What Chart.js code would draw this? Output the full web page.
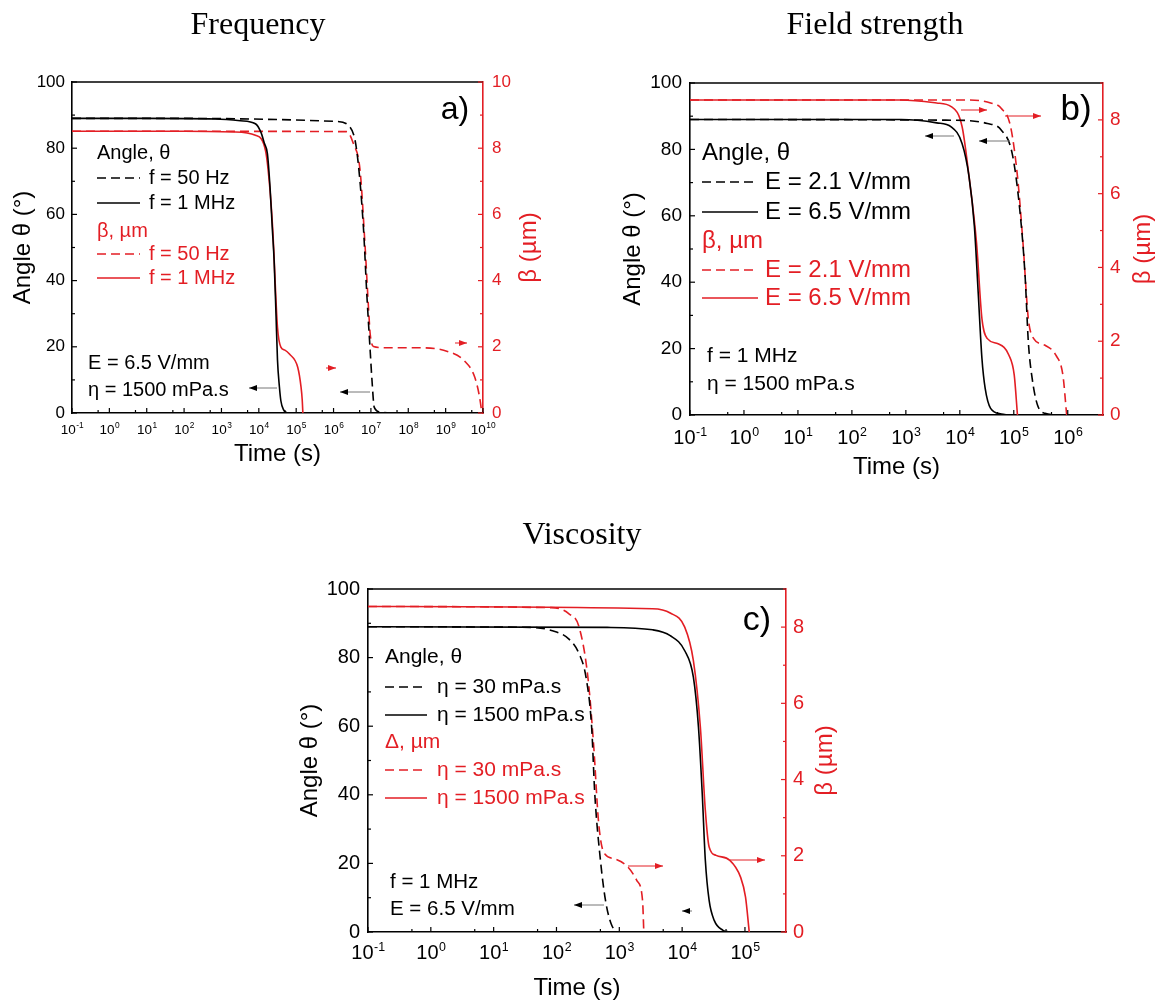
<!DOCTYPE html>
<html><head><meta charset="utf-8">
<script src="https://cdn.jsdelivr.net/npm/chart.js@4.4.1/dist/chart.umd.min.js"></script>
<style>
html,body{margin:0;padding:0;background:#fff;overflow:hidden;width:1157px;height:1000px;}
canvas{position:absolute;display:block;}
</style></head><body>
<canvas id="ca" width="578" height="500" style="left:0;top:0"></canvas>
<canvas id="cb" width="579" height="500" style="left:578px;top:0"></canvas>
<canvas id="cc" width="620" height="500" style="left:250px;top:500px"></canvas>
<script>
// ================= DATA =================
// x tick values (s) and labels (10 raised to exponent)
const aDecades = [0.1, 1, 10, 100, 1e3, 1e4, 1e5, 1e6, 1e7, 1e8, 1e9, 1e10];
const aDecadeExps = ['-1', '0', '1', '2', '3', '4', '5', '6', '7', '8', '9', '10'];
const aMinorTicks = [0.5, 5, 50, 500, 5e3, 5e4, 5e5, 5e6, 5e7, 5e8, 5e9];
const bDecades = [0.1, 1, 10, 100, 1e3, 1e4, 1e5, 1e6];
const bDecadeExps = ['-1', '0', '1', '2', '3', '4', '5', '6'];
const bMinorTicks = [0.5, 5, 50, 500, 5e3, 5e4, 5e5];
const cDecades = [0.1, 1, 10, 100, 1e3, 1e4, 1e5];
const cDecadeExps = ['-1', '0', '1', '2', '3', '4', '5'];
const cMinorTicks = [0.5, 5, 50, 500, 5e3, 5e4];

// ---- Panel a: Frequency ----
const aTimeAngle1MHz = [0.1, 10, 680, 3.2e3, 8.1e3, 1.12e4, 1.41e4, 1.7e4, 2.0e4, 2.29e4, 2.57e4, 2.88e4, 3.16e4, 3.55e4, 3.89e4, 4.57e4, 5.89e4, 7.9e4];
const aAngle1MHz     = [89, 89, 88.8, 88.3, 87.4, 85, 81.5, 78.3, 68, 56, 46, 30, 16, 8, 3.7, 1, 0, 0];
const aTimeBeta1MHz  = [0.1, 100, 2.34e3, 8.1e3, 1.51e4, 1.9e4, 2.34e4, 3.16e4, 3.89e4, 5.0e4, 6.6e4, 1.1e5, 1.35e5, 1.45e5, 1.51e5];
const aBeta1MHz      = [8.51, 8.51, 8.49, 8.39, 7.93, 7.0, 5.61, 2.59, 1.99, 1.9, 1.78, 1.38, 0.78, 0.4, 0];
const aTimeAngle50Hz = [0.1, 100, 1.2e6, 2.75e6, 4.17e6, 6.3e6, 7.76e6, 9.55e6, 1.07e7, 1.23e7, 1.78e7, 3.16e7, 1e10];
const aAngle50Hz     = [89, 89, 88.1, 86.4, 79.3, 56.1, 36, 18.9, 9.8, 1.7, 0.3, 0, 0];
const aTimeBeta50Hz  = [0.1, 100, 2.24e6, 3.39e6, 5.13e6, 6.92e6, 8.71e6, 9.55e6, 1.17e7, 2.69e7, 2.14e8, 1.12e9, 3.16e9, 6.03e9, 8.13e9, 9.33e9];
const aBeta50Hz      = [8.51, 8.51, 8.5, 8.14, 7.33, 5.11, 3.09, 2.39, 2.01, 1.97, 1.97, 1.86, 1.58, 1.08, 0.47, 0];

// ---- Panel b: Field strength ----
const bTimeAngle65 = [0.1, 813, 3.72e3, 6.92e3, 1.1e4, 1.48e4, 1.86e4, 2.19e4, 2.57e4, 2.95e4, 3.72e4, 5.89e4, 7.94e4];
const bAngle65     = [89, 89, 88, 86.8, 81.8, 71.9, 56.9, 36.9, 17, 8, 2, 0.3, 0];
const bTimeBeta65  = [0.1, 813, 3.72e3, 6.92e3, 1.1e4, 1.48e4, 2.04e4, 2.57e4, 3.24e4, 5.13e4, 8.13e4, 1.02e5, 1.17e5];
const bBeta65      = [8.54, 8.54, 8.46, 8.36, 7.82, 6.47, 4.67, 2.61, 2.07, 1.93, 1.62, 1.08, 0];
const bTimeAngle21 = [0.1, 6.92e3, 3.24e4, 5.89e4, 9.33e4, 1.29e5, 1.62e5, 1.86e5, 2.19e5, 2.75e5, 3.8e5, 7.94e5];
const bAngle21     = [89, 88.8, 87.8, 85.8, 78.8, 61.9, 41.9, 22, 11, 3, 0.5, 0];
const bTimeBeta21  = [0.1, 1.48e4, 3.72e4, 5.89e4, 8.71e4, 1.17e5, 1.48e5, 1.86e5, 2.34e5, 3.8e5, 6.03e5, 8.13e5, 9.55e5];
const bBeta21      = [8.54, 8.54, 8.46, 8.31, 7.82, 6.47, 4.67, 2.61, 2.07, 1.89, 1.62, 1.08, 0];

// ---- Panel c: Viscosity ----
const cTimeAngle1500 = [0.1, 646, 3.39e3, 6.46e3, 1.1e4, 1.51e4, 1.82e4, 2.09e4, 2.34e4, 2.69e4, 3.24e4, 4.47e4, 5.62e4];
const cAngle1500     = [89, 88.8, 88.1, 86.4, 82, 74.3, 59.7, 40.3, 20.9, 9.2, 3.4, 0.5, 0];
const cTimeBeta1500  = [0.1, 3.39e3, 6.46e3, 1.1e4, 1.51e4, 1.95e4, 2.34e4, 2.69e4, 3.47e4, 5.75e4, 8.51e4, 1.02e5, 1.17e5];
const cBeta1500      = [8.54, 8.48, 8.37, 8.0, 7.12, 5.38, 3.19, 2.23, 2.01, 1.88, 1.44, 0.92, 0];
const cTimeAngle30   = [0.1, 38, 83, 158, 229, 295, 363, 407, 501, 603, 741, 955, 1585];
const cAngle30       = [89, 88.8, 87.9, 85.4, 81.1, 74.3, 59.7, 40.3, 20.9, 9.2, 2.4, 0, 0];
const cTimeBeta30    = [0.1, 83, 158, 229, 316, 389, 468, 562, 832, 1380, 1905, 2344, 2455];
const cBeta30        = [8.54, 8.51, 8.35, 8.0, 6.69, 4.94, 2.88, 2.1, 1.92, 1.7, 1.35, 0.83, 0];

// ---- texts ----
const panelTitles = ['Frequency', 'Field strength', 'Viscosity'];
const panelLetters = ['a)', 'b)', 'c)'];
const aLegendTexts = ['Angle, θ', 'f = 50 Hz', 'f = 1 MHz', 'β, µm', 'f = 50 Hz', 'f = 1 MHz'];
const bLegendTexts = ['Angle, θ', 'E = 2.1 V/mm', 'E = 6.5 V/mm', 'β, µm', 'E = 2.1 V/mm', 'E = 6.5 V/mm'];
const cLegendTexts = ['Angle, θ', 'η = 30 mPa.s', 'η = 1500 mPa.s', 'Δ, µm', 'η = 30 mPa.s', 'η = 1500 mPa.s'];
const aNotes = ['E = 6.5 V/mm', 'η = 1500 mPa.s'];
const bNotes = ['f = 1 MHz', 'η = 1500 mPa.s'];
const cNotes = ['f = 1 MHz', 'E = 6.5 V/mm'];
const xTitle = 'Time (s)';
const yTitle = 'Angle θ (°)';
const y2Title = 'β (µm)';
const tickBase = '10';

// ================= STYLE =================
const RED = '#e31e24';
const BLACK = '#000000';
const SANS = '"Liberation Sans", Arial, sans-serif';
const SERIF = '"Liberation Serif", "Times New Roman", serif';
const DASH = [9, 5];
const LW = 1.6;

function line(ctx, x1, y1, x2, y2, color, w, dash) {
  ctx.save(); ctx.beginPath(); ctx.strokeStyle = color; ctx.lineWidth = w; ctx.setLineDash(dash || []);
  ctx.moveTo(x1, y1); ctx.lineTo(x2, y2); ctx.stroke(); ctx.restore();
}
function arrow(ctx, x1, x2, y, color, dir) {
  const shaft = color === BLACK ? '#777' : color;
  line(ctx, x1, y, x2, y, shaft, 1);
  ctx.save(); ctx.fillStyle = color; ctx.beginPath();
  if (dir === 'left') { ctx.moveTo(x1, y); ctx.lineTo(x1 + 8, y - 3); ctx.lineTo(x1 + 8, y + 3); }
  else { ctx.moveTo(x2, y); ctx.lineTo(x2 - 8, y - 3); ctx.lineTo(x2 - 8, y + 3); }
  ctx.closePath(); ctx.fill(); ctx.restore();
}
function text(ctx, s, x, y, font, color, align) {
  ctx.save(); ctx.font = font; ctx.fillStyle = color; ctx.textAlign = align || 'left'; ctx.textBaseline = 'middle';
  ctx.fillText(s, x, y); ctx.restore();
}
function isDecade(P, v) {
  return P.decades.findIndex(d => Math.abs(Math.log10(d) - Math.log10(v)) < 1e-6);
}

function decor(P) {
  return {
    id: 'decor' + P.id,
    afterDraw(chart) {
      const ctx = chart.ctx, ca = chart.chartArea, ox = P.ox, oy = P.oy;
      // top frame
      line(ctx, ca.left, ca.top, ca.right, ca.top, BLACK, LW);
      // inward tick marks + x labels (10 with raised exponent)
      const xs = chart.scales.x, ys = chart.scales.y, y2 = chart.scales.y2;
      const s = P.xFont, es = s * 0.62, base = P.xLabTop - oy + 0.716 * s;
      xs.ticks.forEach(t => {
        const px = xs.getPixelForValue(t.value); const i = isDecade(P, t.value);
        line(ctx, px, ca.bottom, px, ca.bottom - (i >= 0 ? 5 : 3), BLACK, 1.2);
        if (i >= 0) {
          ctx.save(); ctx.fillStyle = BLACK; ctx.textBaseline = 'alphabetic'; ctx.textAlign = 'left';
          ctx.font = s + 'px ' + SANS; const wb = ctx.measureText(tickBase).width;
          ctx.font = es + 'px ' + SANS; const we = ctx.measureText(P.decadeExps[i]).width;
          const x0 = px - (wb + we) / 2;
          ctx.font = s + 'px ' + SANS; ctx.fillText(tickBase, x0, base);
          ctx.font = es + 'px ' + SANS; ctx.fillText(P.decadeExps[i], x0 + wb + 0.5, base - 0.42 * s);
          ctx.restore();
        }
      });
      ys.ticks.forEach(t => { const py = ys.getPixelForValue(t.value); const L = t.label ? 5 : 3;
        line(ctx, ca.left, py, ca.left + L, py, BLACK, 1.2); });
      y2.ticks.forEach(t => { const py = y2.getPixelForValue(t.value); const L = t.label ? 5 : 3;
        line(ctx, ca.right, py, ca.right - L, py, RED, 1.2); });
      // titles
      text(ctx, P.title, P.titleX - ox, P.titleY - oy, '32px ' + SERIF, BLACK, 'center');
      text(ctx, P.letter, P.letterX - ox, P.letterY - oy, P.letterSize + 'px ' + SANS, BLACK, 'center');
      // legend
      const L = P.leg, f = L.size + 'px ' + SANS, T = P.legendTexts;
      text(ctx, T[0], L.x - ox, L.rows[0] - oy, f, BLACK);
      line(ctx, L.x - ox, L.rows[1] - oy, L.sx2 - ox, L.rows[1] - oy, BLACK, LW, DASH);
      text(ctx, T[1], L.tx - ox, L.rows[1] - oy, f, BLACK);
      line(ctx, L.x - ox, L.rows[2] - oy, L.sx2 - ox, L.rows[2] - oy, BLACK, LW);
      text(ctx, T[2], L.tx - ox, L.rows[2] - oy, f, BLACK);
      text(ctx, T[3], L.x - ox, L.rows[3] - oy, f, RED);
      line(ctx, L.x - ox, L.rows[4] - oy, L.sx2 - ox, L.rows[4] - oy, RED, LW, DASH);
      text(ctx, T[4], L.tx - ox, L.rows[4] - oy, f, RED);
      line(ctx, L.x - ox, L.rows[5] - oy, L.sx2 - ox, L.rows[5] - oy, RED, LW);
      text(ctx, T[5], L.tx - ox, L.rows[5] - oy, f, RED);
      // notes
      const nf = P.noteSize + 'px ' + SANS;
      text(ctx, P.notes[0], P.noteX - ox, P.noteY[0] - oy, nf, BLACK);
      text(ctx, P.notes[1], P.noteX - ox, P.noteY[1] - oy, nf, BLACK);
      // arrows
      P.arrows.forEach(a => arrow(ctx, a[0] - ox, a[1] - ox, a[2] - oy, a[3], a[4]));
      // right axis title (reads bottom to top)
      ctx.save(); ctx.translate(P.y2TitleX - ox, (ca.top + ca.bottom) / 2); ctx.rotate(-Math.PI / 2);
      ctx.font = '24px ' + SANS; ctx.fillStyle = RED; ctx.textAlign = 'center'; ctx.textBaseline = 'middle';
      ctx.fillText(y2Title, 0, 0); ctx.restore();
    }
  };
}

function makeChart(P) {
  const sets = P.series.map(s => ({
    data: s.t.map((t, i) => ({x: t, y: s.v[i]})),
    yAxisID: s.axis, borderColor: s.color, borderWidth: LW, borderDash: s.dash ? DASH : [],
    pointRadius: 0, fill: false, cubicInterpolationMode: 'monotone'
  }));
  const allX = P.decades.concat(P.minor).sort((a, b) => a - b);
  new Chart(document.getElementById(P.id), {
    type: 'line',
    data: {datasets: sets},
    options: {
      responsive: false, animation: false, devicePixelRatio: 1,
      layout: {padding: {left: 0, top: P.top, right: P.padRight, bottom: 0}},
      plugins: {legend: {display: false}, tooltip: {enabled: false}, title: {display: false}},
      scales: {
        x: {
          type: 'logarithmic', position: 'bottom', min: P.xmin, max: P.xmax, bounds: 'data',
          afterBuildTicks: s => { s.ticks = allX.map(v => ({value: v})); },
          afterFit: s => { s.height = P.xH; },
          grid: {display: false, drawTicks: false},
          border: {display: true, color: BLACK, width: LW},
          ticks: {display: false, autoSkip: false, maxRotation: 0, minRotation: 0},
          title: {display: true, text: xTitle, color: BLACK, font: {family: SANS, size: 24, lineHeight: 1},
                  padding: {top: 0, bottom: P.xTitlePad}}
        },
        y: {
          type: 'linear', position: 'left', min: 0, max: 100,
          afterFit: s => { s.width = P.yW; },
          grid: {display: false, drawTicks: false},
          border: {display: true, color: BLACK, width: LW},
          ticks: {stepSize: 10, padding: P.yPad, color: BLACK, font: {family: SANS, size: P.yFont},
                  callback: v => (v % 20 === 0 ? String(v) : '')},
          title: {display: true, text: yTitle, color: BLACK, font: {family: SANS, size: 24, lineHeight: 1},
                  padding: {top: P.yTitlePad, bottom: 0}}
        },
        y2: {
          type: 'linear', position: 'right', min: 0, max: P.y2max,
          afterFit: s => { s.width = P.y2W; },
          grid: {display: false, drawTicks: false},
          border: {display: true, color: RED, width: LW},
          ticks: {stepSize: 1, padding: P.y2Pad, color: RED, font: {family: SANS, size: P.yFont},
                  callback: v => (v % 2 === 0 ? String(v) : '')}
        }
      }
    },
    plugins: [decor(P)]
  });
}

// ---- Panel a ----
makeChart({
  id: 'ca', ox: 0, oy: 0, top: 82, padRight: 35, yW: 72, y2W: 60, xH: 87,
  xmin: 0.1, xmax: 1e10, y2max: 10,
  decades: aDecades, decadeExps: aDecadeExps, minor: aMinorTicks,
  xFont: 13.5, xLabTop: 424, yFont: 17, yPad: 7, y2Pad: 9, yTitlePad: 11, xTitlePad: 34,
  series: [
    {t: aTimeAngle50Hz, v: aAngle50Hz, axis: 'y', color: BLACK, dash: true},
    {t: aTimeAngle1MHz, v: aAngle1MHz, axis: 'y', color: BLACK, dash: false},
    {t: aTimeBeta50Hz, v: aBeta50Hz, axis: 'y2', color: RED, dash: true},
    {t: aTimeBeta1MHz, v: aBeta1MHz, axis: 'y2', color: RED, dash: false}
  ],
  title: panelTitles[0], titleX: 258, titleY: 26,
  letter: panelLetters[0], letterX: 455, letterY: 110, letterSize: 32,
  legendTexts: aLegendTexts,
  leg: {x: 97, sx2: 140, tx: 149, size: 20, rows: [153, 178, 203, 231, 254, 278]},
  notes: aNotes, noteX: 88, noteY: [363, 390], noteSize: 20,
  arrows: [[249, 277, 388, BLACK, 'left'], [340, 370, 392, BLACK, 'left'], [326, 336, 368, RED, 'right'], [455, 467, 343, RED, 'right']],
  y2TitleX: 529
});

// ---- Panel b ----
makeChart({
  id: 'cb', ox: 578, oy: 0, top: 83, padRight: 0, yW: 112, y2W: 54, xH: 85,
  xmin: 0.1, xmax: 4.5e6, y2max: 9,
  decades: bDecades, decadeExps: bDecadeExps, minor: bMinorTicks,
  xFont: 20, xLabTop: 430, yFont: 19, yPad: 8, y2Pad: 7, yTitlePad: 43, xTitlePad: 21,
  series: [
    {t: bTimeAngle21, v: bAngle21, axis: 'y', color: BLACK, dash: true},
    {t: bTimeAngle65, v: bAngle65, axis: 'y', color: BLACK, dash: false},
    {t: bTimeBeta21, v: bBeta21, axis: 'y2', color: RED, dash: true},
    {t: bTimeBeta65, v: bBeta65, axis: 'y2', color: RED, dash: false}
  ],
  title: panelTitles[1], titleX: 875, titleY: 26,
  letter: panelLetters[1], letterX: 1076, letterY: 110, letterSize: 35,
  legendTexts: bLegendTexts,
  leg: {x: 702, sx2: 758, tx: 765, size: 24, rows: [153, 182, 212, 241, 270, 298]},
  notes: bNotes, noteX: 707, noteY: [356, 384], noteSize: 21,
  arrows: [[925, 954, 136, BLACK, 'left'], [979, 1010, 141, BLACK, 'left'], [961, 987, 110, RED, 'right'], [1005, 1041, 116, RED, 'right']],
  y2TitleX: 1143
});

// ---- Panel c ----
makeChart({
  id: 'cc', ox: 250, oy: 500, top: 89, padRight: 0, yW: 118, y2W: 84, xH: 68,
  xmin: 0.1, xmax: 4.5e5, y2max: 9,
  decades: cDecades, decadeExps: cDecadeExps, minor: cMinorTicks,
  xFont: 20, xLabTop: 945, yFont: 20, yPad: 8, y2Pad: 7, yTitlePad: 48, xTitlePad: 0,
  series: [
    {t: cTimeAngle30, v: cAngle30, axis: 'y', color: BLACK, dash: true},
    {t: cTimeAngle1500, v: cAngle1500, axis: 'y', color: BLACK, dash: false},
    {t: cTimeBeta30, v: cBeta30, axis: 'y2', color: RED, dash: true},
    {t: cTimeBeta1500, v: cBeta1500, axis: 'y2', color: RED, dash: false}
  ],
  title: panelTitles[2], titleX: 582, titleY: 536,
  letter: panelLetters[2], letterX: 757, letterY: 621, letterSize: 34,
  legendTexts: cLegendTexts,
  leg: {x: 385, sx2: 427, tx: 437, size: 21, rows: [657, 687, 715, 742, 770, 798]},
  notes: cNotes, noteX: 390, noteY: [882, 909], noteSize: 20.5,
  arrows: [[574, 604, 905, BLACK, 'left'], [682, 692, 911, BLACK, 'left'], [628, 663, 866, RED, 'right'], [730, 765, 860, RED, 'right']],
  y2TitleX: 825
});
</script>
</body></html>
